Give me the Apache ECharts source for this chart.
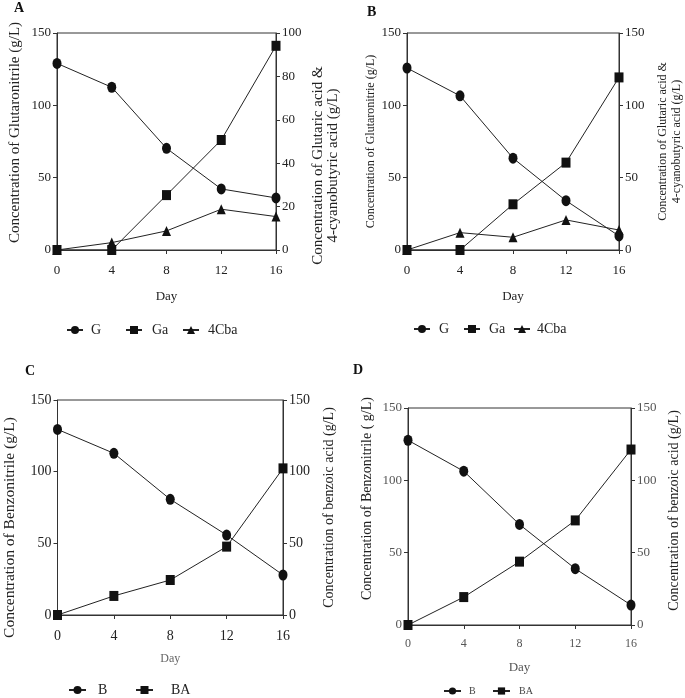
<!DOCTYPE html>
<html>
<head>
<meta charset="utf-8">
<script src="https://cdn.jsdelivr.net/npm/echarts@6/dist/echarts.min.js"></script>
<style>
html,body{margin:0;padding:0;background:#fff;}
#chart{width:685px;height:698px;}
</style>
</head>
<body>
<div id="chart"></div>
<script>
// ---- data ----
const days = [0, 4, 8, 12, 16];
// Panel A
const aG   = [129, 112.5, 70.3, 42.2, 36];
const aGa  = [0, 0, 25.3, 50.7, 94.1];
const aCba = [0, 3.4, 8.8, 18.8, 15.4];
// Panel B
const bG   = [125.8, 106.6, 63.5, 34.1, 9.7];
const bGa  = [0, 0, 31.6, 60.4, 119.3];
const bCba = [0, 12, 8.8, 20.8, 13.8];
// Panel C
const cB  = [129.5, 112.8, 80.7, 55.8, 27.9];
const cBA = [0, 13.3, 24.4, 47.7, 102.3];
// Panel D
const dB  = [127.7, 106.3, 69.5, 38.9, 13.8];
const dBA = [0, 19.3, 43.8, 72.3, 121.3];

const panelLabels = ['A', 'B', 'C', 'D'];
const FONT = 'Liberation Serif';

const pairs = vals => days.map((d, i) => [d, vals[i]]);

const grids = [
  {left: 57, top: 33, width: 219, height: 217},
  {left: 407, top: 33, width: 213, height: 217},
  {left: 56, top: 400, width: 227, height: 215},
  {left: 408, top: 408, width: 223, height: 217}
];

const axisLine = c => ({show: true, lineStyle: {color: c, width: 1}});

function xAxisFor(i, fs, nameFs, nameGap, col, nameCol, margin) {
  return {
    type: 'value', gridIndex: i, min: 0, max: 16, interval: 4,
    axisLine: axisLine('#333'),
    axisTick: {show: true, inside: false, length: 4, lineStyle: {color: '#333'}},
    splitLine: {show: false},
    axisLabel: {fontFamily: FONT, fontSize: fs, color: col, margin: margin},
    name: 'Day', nameLocation: 'middle', nameGap: nameGap,
    nameTextStyle: {fontFamily: FONT, fontSize: nameFs, color: nameCol}
  };
}

function yAxisFor(i, pos, max, interval, name, fs, nameFs, nameGap, col, padding, lh) {
  return {
    type: 'value', gridIndex: i, position: pos, min: 0, max: max, interval: interval,
    axisLine: axisLine('#333'),
    axisTick: {show: true, inside: false, length: 4, lineStyle: {color: '#333'}},
    splitLine: {show: false},
    axisLabel: {fontFamily: FONT, fontSize: fs, color: col, margin: 6},
    name: name, nameLocation: 'middle', nameRotate: 90, nameGap: nameGap,
    nameTextStyle: {fontFamily: FONT, fontSize: nameFs, color: '#222', padding: padding, lineHeight: lh || (nameFs + 2)}
  };
}

function lineSeries(name, vals, xi, yi, symbol, size) {
  return {
    type: 'line', name: name, data: pairs(vals), xAxisIndex: xi, yAxisIndex: yi,
    symbol: symbol, symbolSize: size, showSymbol: true,
    lineStyle: {color: '#222', width: 1},
    itemStyle: {color: '#111'},
    animation: false
  };
}

function legendItem(name, left, cy, fs, gap, col, iw, ih) {
  return {
    data: [name], left: left, top: cy - 8, padding: 0,
    itemWidth: iw || 16, itemHeight: ih || 10, height: 16,
    textStyle: {fontFamily: FONT, fontSize: fs, color: col || '#222', padding: [0, 0, 0, gap], lineHeight: 16}
  };
}

const option = {
  backgroundColor: '#fff',
  animation: false,
  title: panelLabels.map((t, i) => ({
    text: t, padding: 0,
    left: [14, 367, 25, 353][i],
    top: [1, 5, 364, 363][i],
    textStyle: {fontFamily: FONT, fontSize: 14, fontWeight: 'bold', color: '#111'}
  })),
  grid: grids.map(g => Object.assign({show: true, borderColor: '#333', borderWidth: 1, backgroundColor: 'transparent'}, g)),
  xAxis: [
    xAxisFor(0, 13, 13, 40, '#222', '#222', 14),
    xAxisFor(1, 13, 13, 40, '#222', '#222', 14),
    xAxisFor(2, 14, 12, 38, '#222', '#666', 14),
    xAxisFor(3, 12, 13, 36, '#555', '#555', 13)
  ],
  yAxis: [
    yAxisFor(0, 'left', 150, 50, 'Concentration of Glutaronitrile (g/L)', 13, 15, 33, '#222', [0, 0, 0, 18]),
    yAxisFor(0, 'right', 100, 20, 'Concentration of Glutaric acid &\n4-cyanobutyric acid (g/L)', 13, 15, 35, '#222', [0, 48, 0, 0], 15),
    yAxisFor(1, 'left', 150, 50, 'Concentration of Glutaronitrie (g/L)', 13, 12, 28, '#222', 0),
    yAxisFor(1, 'right', 150, 50, 'Concentration of Glutaric acid &\n4-cyanobutyric acid (g/L)', 13, 12, 37, '#222', 0),
    yAxisFor(2, 'left', 150, 50, 'Concentration of Benzonitrile (g/L)', 14, 15.5, 39, '#222', [0, 40, 0, 0]),
    yAxisFor(2, 'right', 150, 50, 'Concentration of benzoic acid (g/L)', 14, 14, 38, '#222', 0),
    yAxisFor(3, 'left', 150, 50, 'Concentration of Benzonitrile ( g/L)', 13, 14, 33, '#555', [0, 0, 0, 36]),
    yAxisFor(3, 'right', 150, 50, 'Concentration of benzoic acid (g/L)', 13, 14, 35, '#555', [0, 0, 0, 12])
  ],
  legend: [
    legendItem('G', 66, 330, 14, 3),
    legendItem('Ga', 125, 330, 14, 5),
    legendItem('4Cba', 182, 330, 14, 4),
    legendItem('G', 413, 329, 14, 4),
    legendItem('Ga', 463, 329, 14, 4),
    legendItem('4Cba', 513, 329, 14, 2),
    legendItem('B', 68, 690, 14, 7, '#222', 17),
    legendItem('BA', 135, 690, 14, 13, '#222', 17),
    legendItem('B', 443, 691, 10, 3, '#444', 17, 9),
    legendItem('BA', 492, 691, 10, 4, '#444', 17, 9)
  ],
  series: [
    lineSeries('G', aG, 0, 0, 'circle', [9, 11]),
    lineSeries('Ga', aGa, 0, 1, 'rect', [9, 10]),
    lineSeries('4Cba', aCba, 0, 1, 'triangle', [9, 10]),
    lineSeries('G', bG, 1, 2, 'circle', [9, 11]),
    lineSeries('Ga', bGa, 1, 3, 'rect', [9, 10]),
    lineSeries('4Cba', bCba, 1, 3, 'triangle', [9, 10]),
    lineSeries('B', cB, 2, 4, 'circle', [9, 11]),
    lineSeries('BA', cBA, 2, 5, 'rect', [9, 10]),
    lineSeries('B', dB, 3, 6, 'circle', [9, 11]),
    lineSeries('BA', dBA, 3, 7, 'rect', [9, 10])
  ]
};

const chart = echarts.init(document.getElementById('chart'), null, {renderer: 'canvas'});
chart.setOption(option);
</script>
</body>
</html>
